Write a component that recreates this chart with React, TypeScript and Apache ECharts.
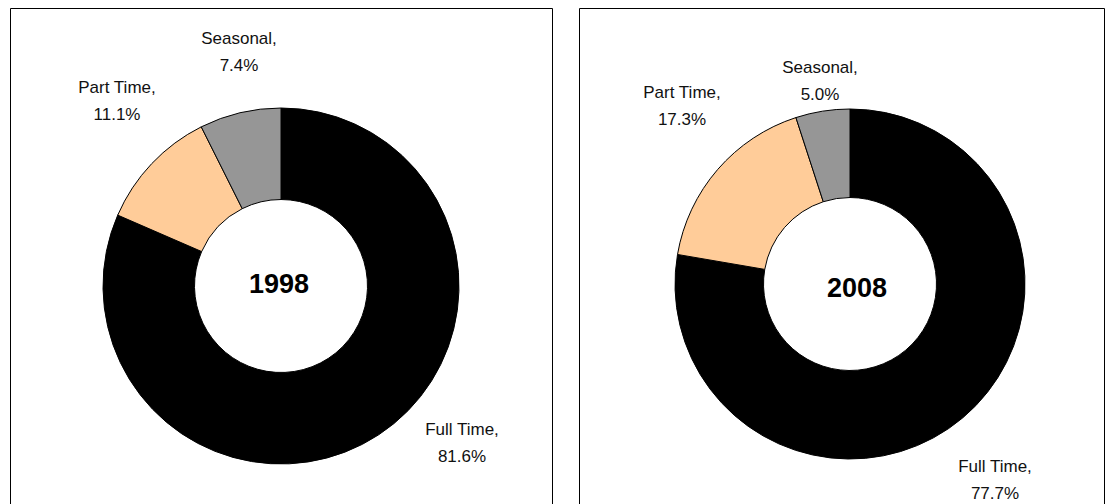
import React, { useEffect, useRef } from "react";
import * as echarts from "echarts";

// ---- data ----
const categories = ["Full Time", "Part Time", "Seasonal"];
const values1998 = [81.6, 11.1, 7.4];
const values2008 = [77.7, 17.3, 5.0];
const years = ["1998", "2008"];
const sliceColors = ["#000000", "#FFCC99", "#969696"];

// ---- layout (pixel positions of label blocks) ----
const labelPos = [
  [
    [462, 443],
    [117, 101],
    [239, 52],
  ],
  [
    [995, 480],
    [682, 106],
    [820, 81],
  ],
];

export default function App() {
  const ref = useRef<HTMLDivElement>(null);
  useEffect(() => {
    if (!ref.current) return;
    const chart = echarts.init(ref.current, undefined, { renderer: "svg" });
    const font = "'Liberation Sans', Arial, sans-serif";
    const makeSeries = (vals: number[], idx: number, center: number[], radius: number[]) => ({
      type: "pie",
      center,
      radius,
      startAngle: 90,
      clockwise: true,
      silent: true,
      data: categories.map((c, i) => ({
        name: c,
        value: vals[i],
        itemStyle: { color: sliceColors[i] },
      })),
      itemStyle: { borderColor: "#000", borderWidth: 1 },
      label: {
        show: true,
        position: "outside",
        formatter: (p: any) => `${p.name},\n${p.value.toFixed(1)}%`,
        fontFamily: font,
        fontSize: 17,
        lineHeight: 27,
        color: "#111",
        align: "center",
      },
      labelLine: { show: false },
      labelLayout: (params: any) => {
        const pos = labelPos[idx][params.dataIndex];
        return { x: pos[0], y: pos[1], align: "center", verticalAlign: "middle" };
      },
    });
    chart.setOption({
      animation: false,
      backgroundColor: "#ffffff",
      graphic: [
        {
          type: "rect",
          shape: { x: 10.5, y: 8.5, width: 542, height: 520 },
          style: { fill: "none", stroke: "#000", lineWidth: 1 },
          z: 0,
        },
        {
          type: "rect",
          shape: { x: 579.5, y: 8.5, width: 525, height: 520 },
          style: { fill: "none", stroke: "#000", lineWidth: 1 },
          z: 0,
        },
        {
          type: "text",
          x: 279,
          y: 284,
          style: {
            text: years[0],
            fontFamily: font,
            fontSize: 27,
            fontWeight: "bold",
            fill: "#000",
            align: "center",
            verticalAlign: "middle",
          },
          z: 10,
        },
        {
          type: "text",
          x: 857,
          y: 288,
          style: {
            text: years[1],
            fontFamily: font,
            fontSize: 27,
            fontWeight: "bold",
            fill: "#000",
            align: "center",
            verticalAlign: "middle",
          },
          z: 10,
        },
      ],
      series: [
        makeSeries(values1998, 0, [281, 286], [86.5, 178]),
        makeSeries(values2008, 1, [850, 284], [86.5, 175]),
      ],
    });
    return () => chart.dispose();
  }, []);
  return (
    <div
      ref={ref}
      style={{ position: "fixed", left: 0, top: 0, width: 1114, height: 504 }}
    />
  );
}
